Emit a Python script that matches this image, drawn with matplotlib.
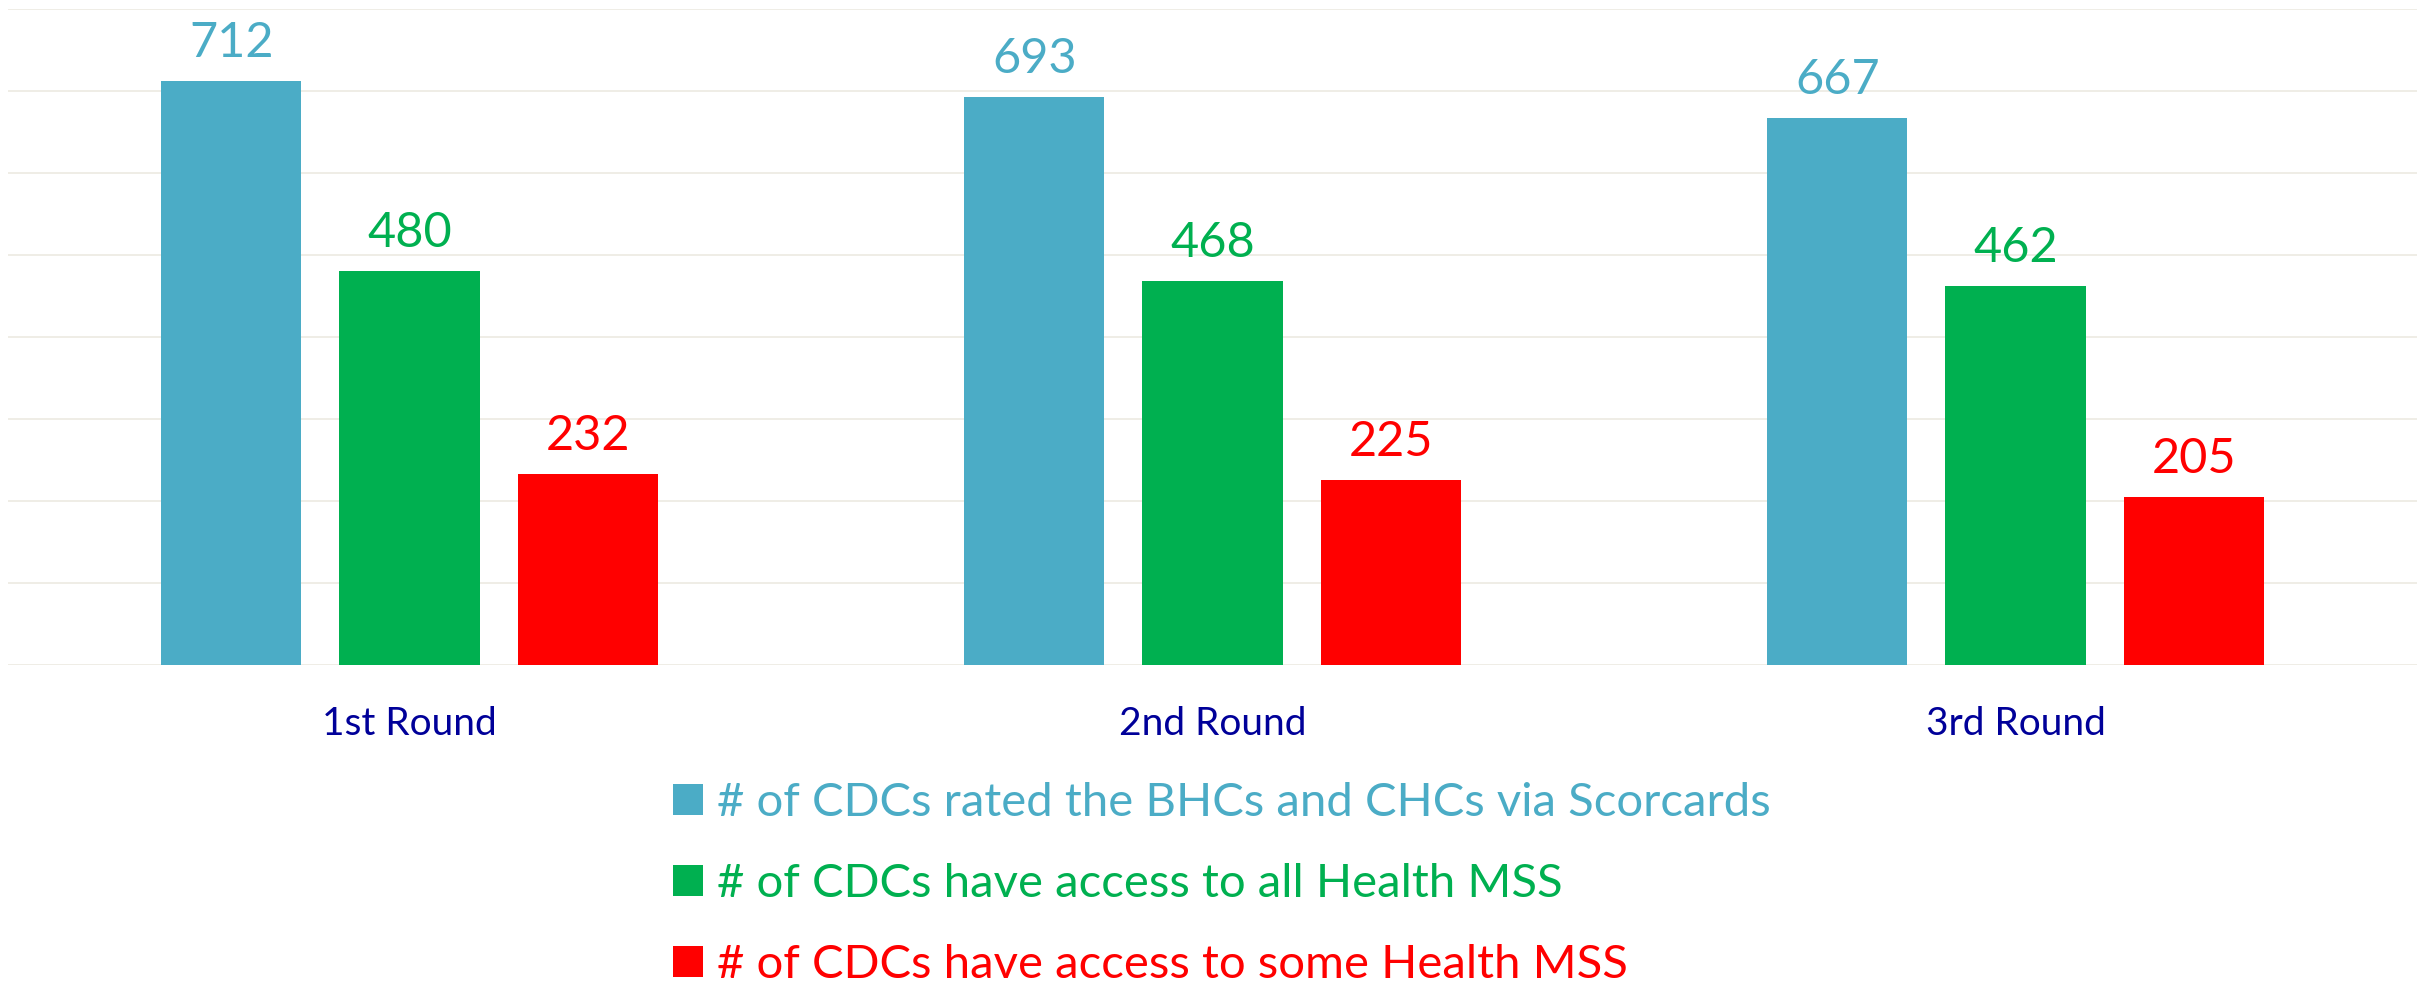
import matplotlib
matplotlib.use("Agg")
import matplotlib.pyplot as plt
from matplotlib.patches import Patch
import numpy as np

categories = ["1st Round", "2nd Round", "3rd Round"]
series_names = [
    "# of CDCs rated the BHCs and CHCs via Scorcards",
    "# of CDCs have access to all Health MSS",
    "# of CDCs have access to some Health MSS",
]
rated = [712, 693, 667]
access_all = [480, 468, 462]
access_some = [232, 225, 205]
colors = ["#4BACC6", "#00B050", "#FF0000"]
yticks = [0, 100, 200, 300, 400, 500, 600, 700, 800]

plt.rcParams["font.family"] = ["Lato", "DejaVu Sans"]

W, H = 2425, 982
fig = plt.figure(figsize=(W / 100, H / 100), dpi=100)
ax = fig.add_axes([8 / W, (H - 664.5) / H, 2409 / W, (664.5 - 9) / H])

x = np.arange(len(categories))
bw = 0.1746
step = 0.222
all_series = [rated, access_all, access_some]
for i, (vals, col) in enumerate(zip(all_series, colors)):
    pos = x + (i - 1) * step
    bars = ax.bar(pos, vals, width=bw, color=col, zorder=3, linewidth=0)
    for b, v in zip(bars, vals):
        ax.annotate(str(v), (b.get_x() + b.get_width() / 2, v),
                    xytext=(0, 17.3), textcoords="offset points",
                    ha="center", va="baseline", fontsize=35, color=col)

ax.set_xlim(-0.5, 2.5)
ax.set_ylim(0, 800)
ax.set_yticks(yticks)
ax.yaxis.grid(True, color="#ECEAE2", linewidth=1.2, zorder=0)
ax.set_axisbelow(True)
ax.tick_params(axis="y", left=False, labelleft=False)
ax.set_xticks(x)
ax.set_xticklabels(categories, fontsize=28, color="#000099")
ax.tick_params(axis="x", length=0, pad=30)
for s in ax.spines.values():
    s.set_visible(False)

handles = [Patch(facecolor=c, edgecolor="none") for c in colors]
fs = 34
fs_px = fs * 100 / 72
leg = fig.legend(handles, series_names, loc="upper left",
                 bbox_to_anchor=(673 / W, 1 - 782 / H),
                 frameon=False, fontsize=fs, borderpad=0, borderaxespad=0,
                 handlelength=30 / fs_px, handleheight=30 / fs_px,
                 handletextpad=14 / fs_px, labelspacing=0.83)
for t, c in zip(leg.get_texts(), colors):
    t.set_color(c)

fig.savefig("out.png", dpi=100)
